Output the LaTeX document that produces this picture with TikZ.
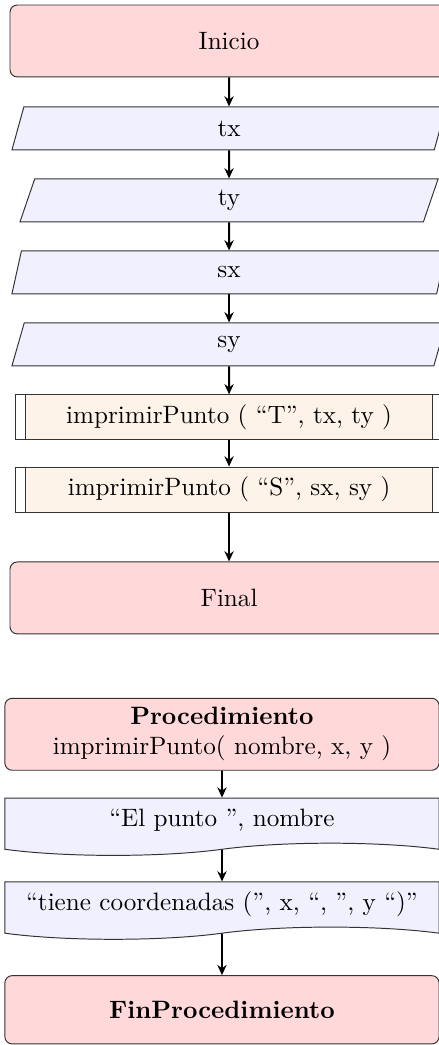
\documentclass[tikz,border=0pt]{standalone}
\usepackage{tikz}
\usetikzlibrary{arrows.meta,positioning,shapes.geometric,shapes.symbols}
\definecolor{cTerm}{RGB}{255,216,218}
\definecolor{cData}{RGB}{240,240,254}
\definecolor{cProc}{RGB}{254,243,232}

\begin{document}
\begin{tikzpicture}[
  font=\fontsize{10.3}{12.3}\selectfont,
  node distance=11.5pt,
  term/.style={draw=black!80,rounded corners=3pt,minimum width=179.6pt,minimum height=29.5pt,
               fill=cTerm,align=center},
  io/.style={draw=black!80,trapezium,trapezium left angle=60,trapezium right angle=120,
             trapezium stretches body,minimum width=178pt,minimum height=17.6pt,fill=cData,
             inner sep=1pt},
  subproc/.style={draw=black!80,minimum width=175.5pt,minimum height=18.5pt,fill=white,
    path picture={
      \fill[cProc] ([xshift=4.5pt]path picture bounding box.south west)
                   rectangle ([xshift=-4.5pt]path picture bounding box.north east);
      \draw[black!80] ([xshift=4.5pt]path picture bounding box.south west)
                   -- ([xshift=4.5pt]path picture bounding box.north west);
      \draw[black!80] ([xshift=-4.5pt]path picture bounding box.south east)
                   -- ([xshift=-4.5pt]path picture bounding box.north east);}},
  doc/.style={draw=black!80,tape,tape bend top=none,tape bend bottom=in and out,
              tape bend height=5pt,minimum width=178pt,minimum height=23.5pt,fill=cData},
  flow/.style={-{Stealth[length=4.2pt,width=3.8pt]},thick},
]
\useasboundingbox (-93.9pt,16.8pt) rectangle (85.7pt,-411.6pt);

% main program
\node[term] (ini) at (0,0) {Inicio};
\node[io,below=11.9pt of ini] (tx) {tx};
\node[io,below=of tx,minimum width=171.4pt] (ty) {ty};
\node[io,below=of ty] (sx) {sx};
\node[io,below=of sx] (sy) {sy};
\node[subproc,below=of sy] (impT) {imprimirPunto ( ``T'', tx, ty )};
\node[subproc,below=10.7pt of impT] (impS) {imprimirPunto ( ``S'', sx, sy )};
\node[term,below=20pt of impS] (fin) {Final};
\draw[flow] (ini)  -- (tx);
\draw[flow] (tx)   -- (ty);
\draw[flow] (ty)   -- (sx);
\draw[flow] (sx)   -- (sy);
\draw[flow] (sy)   -- (impT);
\draw[flow] (impT) -- (impS);
\draw[flow] (impS) -- (fin);

% procedure
\node[term,below=26pt of fin,xshift=-2.9pt,minimum width=178pt] (proc)
     {\textbf{Procedimiento}\\imprimirPunto( nombre, x, y )};
\node[doc,below=11pt of proc] (msg1) {``El punto '', nombre};
\node[doc,below=15.5pt of msg1] (msg2) {``tiene coordenadas ('', x, ``, '', y ``)''};
\node[term,below=19.5pt of msg2,minimum width=178pt,minimum height=28pt] (endp)
     {\textbf{FinProcedimiento}};
\draw[flow] (proc) -- (msg1);
\draw[flow] (msg1) -- (msg2);
\draw[flow] (msg2) -- (endp);
\end{tikzpicture}
\end{document}
